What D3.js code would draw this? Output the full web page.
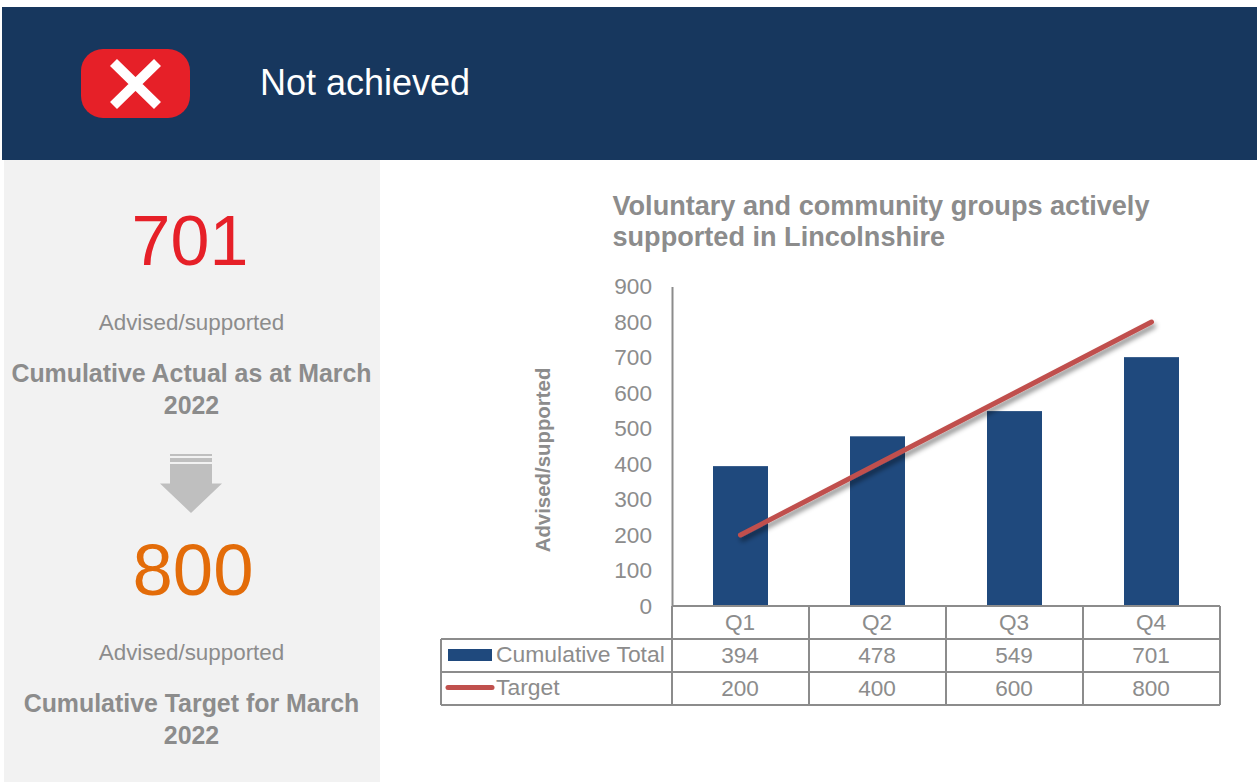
<!DOCTYPE html>
<html>
<head>
<meta charset="utf-8">
<script src="https://cdnjs.cloudflare.com/ajax/libs/d3/7.8.5/d3.min.js"></script>
<style>
html, body { margin: 0; padding: 0; background: #fff; overflow: hidden; }
svg { display: block; }
text { font-family: "Liberation Sans", Arial, sans-serif; }
</style>
</head>
<body>
<script>
const WIDTH = 1257;
const HEIGHT = 782;

const quarters = ["Q1", "Q2", "Q3", "Q4"];
const cumulativeTotal = [394, 478, 549, 701];
const target = [200, 400, 600, 800];
const yTicks = [0, 100, 200, 300, 400, 500, 600, 700, 800, 900];

const GREY = "#8c8c8c";
const NAVY = "#1f497d";
const RED = "#c0504d";
const LINE_GREY = "#8c8c8c";

const PLOT = {LEFT: 672, RIGHT: 1220, TOP: 286.5, BOTTOM: 606};
const ROW_H = 33;
const TABLE_LEFT = 441;

var svg = d3.select("body").append("svg")
    .attr("width", WIDTH)
    .attr("height", HEIGHT);

var defs = svg.append("defs");
var shadow = defs.append("filter")
    .attr("id", "lineShadow")
    .attr("x", "-10%").attr("y", "-20%")
    .attr("width", "120%").attr("height", "140%");
shadow.append("feDropShadow")
    .attr("dx", 2).attr("dy", 4)
    .attr("stdDeviation", 2.5)
    .attr("flood-color", "#000")
    .attr("flood-opacity", 0.45);

// header band and left panel
svg.append("rect").attr("x", 2).attr("y", 7).attr("width", 1255).attr("height", 153).attr("fill", "#17375e");
svg.append("rect").attr("x", 4).attr("y", 160).attr("width", 376).attr("height", 622).attr("fill", "#f2f2f2");

// red cross badge
svg.append("rect")
    .attr("x", 81).attr("y", 49)
    .attr("width", 109).attr("height", 69)
    .attr("rx", 22)
    .attr("fill", "#e62028");
svg.append("path")
    .attr("d", "M113.5 62.5L157.5 105.5M157.5 62.5L113.5 105.5")
    .attr("stroke", "#fff")
    .attr("stroke-width", 10)
    .attr("fill", "none");

svg.append("text")
    .attr("x", 260).attr("y", 95)
    .attr("font-size", 36)
    .attr("fill", "#fff")
    .text("Not achieved");

// left panel text
function panelText(str, xp, y, size, color, bold) {
    svg.append("text")
        .attr("x", xp).attr("y", y)
        .attr("text-anchor", "middle")
        .attr("font-size", size)
        .attr("font-weight", bold ? "bold" : "normal")
        .attr("fill", color)
        .text(str);
}

panelText("701", 190, 265, 70, "#e62028");
panelText("Advised/supported", 191.5, 330, 22.4, GREY);
panelText("Cumulative Actual as at March", 191.5, 382, 24.9, GREY, true);
panelText("2022", 191.5, 414, 24.9, GREY, true);
panelText("800", 193, 595, 72.5, "#e36c09");
panelText("Advised/supported", 191.5, 660, 22.4, GREY);
panelText("Cumulative Target for March", 191.5, 712, 24.9, GREY, true);
panelText("2022", 191.5, 744, 24.9, GREY, true);

// down arrow
svg.append("path")
    .attr("d", "M170 464H212V483.5H222L191 513L160 483.5H170Z")
    .attr("fill", "#bfbfbf");
svg.append("rect").attr("x", 170).attr("y", 454).attr("width", 42).attr("height", 2).attr("fill", "#bfbfbf");
svg.append("rect").attr("x", 170).attr("y", 458).attr("width", 42).attr("height", 4).attr("fill", "#bfbfbf");

// chart title
svg.append("text").attr("x", 612.5).attr("y", 215)
    .attr("font-size", 27.1).attr("font-weight", "bold").attr("fill", GREY)
    .text("Voluntary and community groups actively");
svg.append("text").attr("x", 612.5).attr("y", 246)
    .attr("font-size", 27.1).attr("font-weight", "bold").attr("fill", GREY)
    .text("supported in Lincolnshire");

// scales
var xCol = d3.scaleBand()
    .domain(quarters)
    .range([PLOT.LEFT, PLOT.RIGHT]);

var y = d3.scaleLinear()
    .domain([0, 900])
    .range([PLOT.BOTTOM, PLOT.TOP]);

// bars
svg.selectAll("rect.bar")
    .data(quarters)
    .enter().append("rect")
    .attr("class", "bar")
    .attr("x", d => xCol(d) + (xCol.bandwidth() - 55) / 2)
    .attr("width", 55)
    .attr("y", (d, i) => y(cumulativeTotal[i]))
    .attr("height", (d, i) => y(0) - y(cumulativeTotal[i]))
    .attr("fill", NAVY);

// target line
var line = d3.line()
    .x((d, i) => xCol(quarters[i]) + xCol.bandwidth() / 2)
    .y(d => y(d));

svg.append("path")
    .datum(target)
    .attr("d", line)
    .attr("fill", "none")
    .attr("stroke", RED)
    .attr("stroke-width", 5)
    .attr("stroke-linecap", "round")
    .attr("filter", "url(#lineShadow)");

// y axis
var yAxis = d3.axisLeft(y)
    .tickValues(yTicks)
    .tickSize(0)
    .tickPadding(20);

var yG = svg.append("g")
    .attr("transform", "translate(" + PLOT.LEFT + ",0)")
    .call(yAxis);
yG.select(".domain").attr("stroke", LINE_GREY).attr("stroke-width", 2);
yG.selectAll("text")
    .attr("font-size", 22.6)
    .attr("font-family", "Liberation Sans")
    .attr("fill", GREY);

svg.append("text")
    .attr("transform", "translate(550,460) rotate(-90)")
    .attr("text-anchor", "middle")
    .attr("font-size", 20.4)
    .attr("font-weight", "bold")
    .attr("fill", GREY)
    .text("Advised/supported");

// data table grid
var grid = svg.append("g")
    .attr("stroke", LINE_GREY)
    .attr("stroke-width", 2)
    .attr("fill", "none");

d3.range(4).forEach(function(r) {
    grid.append("line")
        .attr("x1", r === 0 ? PLOT.LEFT : TABLE_LEFT)
        .attr("x2", PLOT.RIGHT)
        .attr("y1", PLOT.BOTTOM + r * ROW_H)
        .attr("y2", PLOT.BOTTOM + r * ROW_H);
});
grid.append("line")
    .attr("x1", TABLE_LEFT).attr("x2", TABLE_LEFT)
    .attr("y1", PLOT.BOTTOM + ROW_H).attr("y2", PLOT.BOTTOM + 3 * ROW_H);
quarters.concat("end").forEach(function(q) {
    var xp = q === "end" ? PLOT.RIGHT : xCol(q);
    grid.append("line")
        .attr("x1", xp).attr("x2", xp)
        .attr("y1", PLOT.BOTTOM).attr("y2", PLOT.BOTTOM + 3 * ROW_H);
});

// table values
function tableRow(values, rowIndex) {
    svg.append("g").selectAll("text")
        .data(values)
        .enter().append("text")
        .attr("x", (d, i) => xCol(quarters[i]) + xCol.bandwidth() / 2 - 0.5)
        .attr("y", PLOT.BOTTOM + rowIndex * ROW_H + 24)
        .attr("text-anchor", "middle")
        .attr("font-size", 22.6)
        .attr("fill", GREY)
        .text(d => d);
}
tableRow(quarters, 0);
tableRow(cumulativeTotal, 1);
tableRow(target, 2);

// legend keys
svg.append("rect")
    .attr("x", 448).attr("y", 649)
    .attr("width", 44).attr("height", 12)
    .attr("fill", NAVY);
svg.append("text").attr("x", 496).attr("y", 662)
    .attr("font-size", 22.9).attr("fill", GREY)
    .text("Cumulative Total");
svg.append("line")
    .attr("x1", 448).attr("x2", 492)
    .attr("y1", 687.5).attr("y2", 687.5)
    .attr("stroke", RED)
    .attr("stroke-width", 5)
    .attr("stroke-linecap", "round");
svg.append("text").attr("x", 496).attr("y", 695)
    .attr("font-size", 22.9).attr("fill", GREY)
    .text("Target");
</script>
</body>
</html>
